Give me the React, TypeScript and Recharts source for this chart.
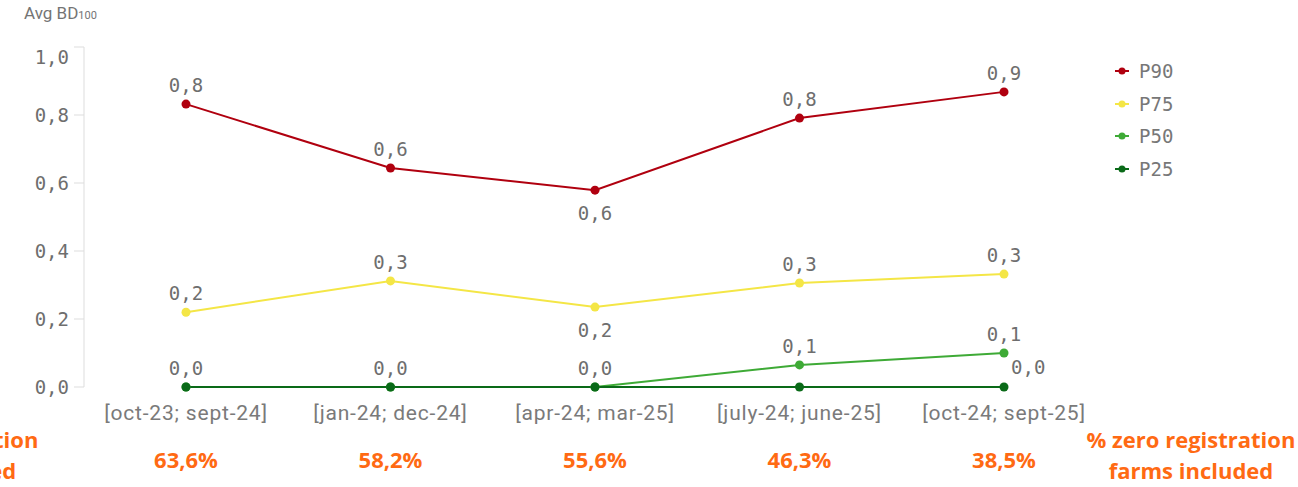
import React from 'react';
import { LineChart, Line, XAxis, YAxis } from 'recharts';

const categories = ['[oct-23; sept-24]', '[jan-24; dec-24]', '[apr-24; mar-25]', '[july-24; june-25]', '[oct-24; sept-25]'];
const p90 = [0.832, 0.644, 0.579, 0.791, 0.868];
const p75 = [0.22, 0.312, 0.235, 0.306, 0.332];
const p50 = [0, 0, 0, 0.065, 0.1];
const p25 = [0, 0, 0, 0, 0];
const zeroShare = ['63,6%', '58,2%', '55,6%', '46,3%', '38,5%'];
const yTicks = [0, 0.2, 0.4, 0.6, 0.8, 1.0];

const seriesDefs = [
  { key: 'P90', values: p90, color: '#B0000F' },
  { key: 'P75', values: p75, color: '#F4E646' },
  { key: 'P50', values: p50, color: '#3EAA36' },
  { key: 'P25', values: p25, color: '#0A6A18' },
];

const data = categories.map((c, i) => ({
  period: c,
  pct: zeroShare[i],
  P90: p90[i],
  P75: p75[i],
  P50: p50[i],
  P25: p25[i],
}));

const MONO = '"DejaVu Sans Mono", monospace';
const SANS = 'Roboto, "Noto Sans", sans-serif';
const BOLD = '"Open Sans", sans-serif';
const ORANGE = '#FF6A13';
const LABEL_GRAY = '#6e6e6e';
const fmt = (v: number) => v.toFixed(1).replace('.', ',');

const makeLabel = (values: number[], key: string) => (props: any) => {
  const { x, y, index } = props;
  const v = values[index];
  if (key === 'P25') {
    const diff = Math.abs(p50[index] - v);
    if (diff < 0.08) return null;
    return (
      <text x={x + 7} y={y - 13} fill={LABEL_GRAY} fontSize={19} fontFamily={MONO} textAnchor="start">
        {fmt(v)}
      </text>
    );
  }
  const prev = index > 0 ? values[index - 1] : undefined;
  const next = index < values.length - 1 ? values[index + 1] : undefined;
  const below = prev !== undefined && next !== undefined && v < prev && v < next;
  return (
    <text x={x} y={below ? y + 30 : y - 12} fill={LABEL_GRAY} fontSize={19} fontFamily={MONO} textAnchor="middle">
      {fmt(v)}
    </text>
  );
};

const YTick = (props: any) => {
  const { x, y, payload } = props;
  const isTop = payload.value === yTicks[yTicks.length - 1];
  return (
    <text x={x} y={y + (isTop ? 10 : 0)} dy="0.355em" textAnchor="end" fill={LABEL_GRAY} fontSize={19} fontFamily={MONO}>
      {fmt(payload.value)}
    </text>
  );
};

const LegendBox = () => (
  <div style={{ position: 'absolute', left: 1114, top: 55 }}>
    {seriesDefs.map((s) => (
      <div key={s.key} style={{ display: 'flex', alignItems: 'center', height: 32.6 }}>
        <svg width={16} height={10} style={{ marginRight: 9 }}>
          <line x1={1} y1={5} x2={15} y2={5} stroke={s.color} strokeWidth={2} />
          <circle cx={8} cy={5} r={3.5} fill={s.color} />
        </svg>
        <span style={{ fontFamily: MONO, fontSize: 19, color: '#777' }}>{s.key}</span>
      </div>
    ))}
  </div>
);

const sideNote = (center: number) => (
  <div
    style={{
      position: 'absolute',
      left: center - 150,
      top: 424,
      width: 300,
      textAlign: 'center',
      fontFamily: BOLD,
      fontWeight: 700,
      fontSize: 22,
      lineHeight: '31px',
      color: ORANGE,
    }}
  >
    % zero registration
    <br />
    farms included
  </div>
);

export default function App() {
  return (
    <div style={{ position: 'absolute', left: 0, top: 0, width: 1298, height: 487, overflow: 'hidden', background: '#fff' }}>
      <div style={{ position: 'absolute', left: 24, top: 3, fontFamily: SANS, fontSize: 17, color: '#747474' }}>
        Avg BD<span style={{ fontSize: 11 }}>100</span>
      </div>
      {sideNote(-66)}
      {sideNote(1191)}
      <LegendBox />
      <LineChart width={1298} height={487} data={data} margin={{ top: 47, right: 192, bottom: 10, left: 24 }}>
        <XAxis
          dataKey="period"
          type="category"
          padding={{ left: 102, right: 102 }}
          axisLine={false}
          tickLine={false}
          tickSize={0}
          tickMargin={18}
          height={45}
          interval={0}
          tick={{ fill: '#7a7a7a', fontSize: 21, fontFamily: SANS, letterSpacing: 0.8 }}
        />
        <XAxis
          xAxisId="pct"
          dataKey="pct"
          type="category"
          padding={{ left: 102, right: 102 }}
          axisLine={false}
          tickLine={false}
          tickSize={0}
          tickMargin={20}
          height={45}
          interval={0}
          tick={{ fill: ORANGE, fontSize: 22, fontWeight: 700, fontFamily: BOLD }}
        />
        <YAxis
          type="number"
          domain={[0, 1]}
          ticks={yTicks}
          width={60}
          axisLine={{ stroke: '#dddddd' }}
          tickLine={{ stroke: '#dddddd' }}
          tickSize={10}
          tickMargin={5}
          tick={<YTick />}
        />
        {seriesDefs.map((s) => (
          <Line
            key={s.key}
            dataKey={s.key}
            stroke={s.color}
            strokeWidth={2}
            dot={{ r: 4.5, fill: s.color, stroke: s.color, strokeWidth: 0 }}
            activeDot={false}
            isAnimationActive={false}
            label={makeLabel(s.values, s.key)}
          />
        ))}
      </LineChart>
    </div>
  );
}
